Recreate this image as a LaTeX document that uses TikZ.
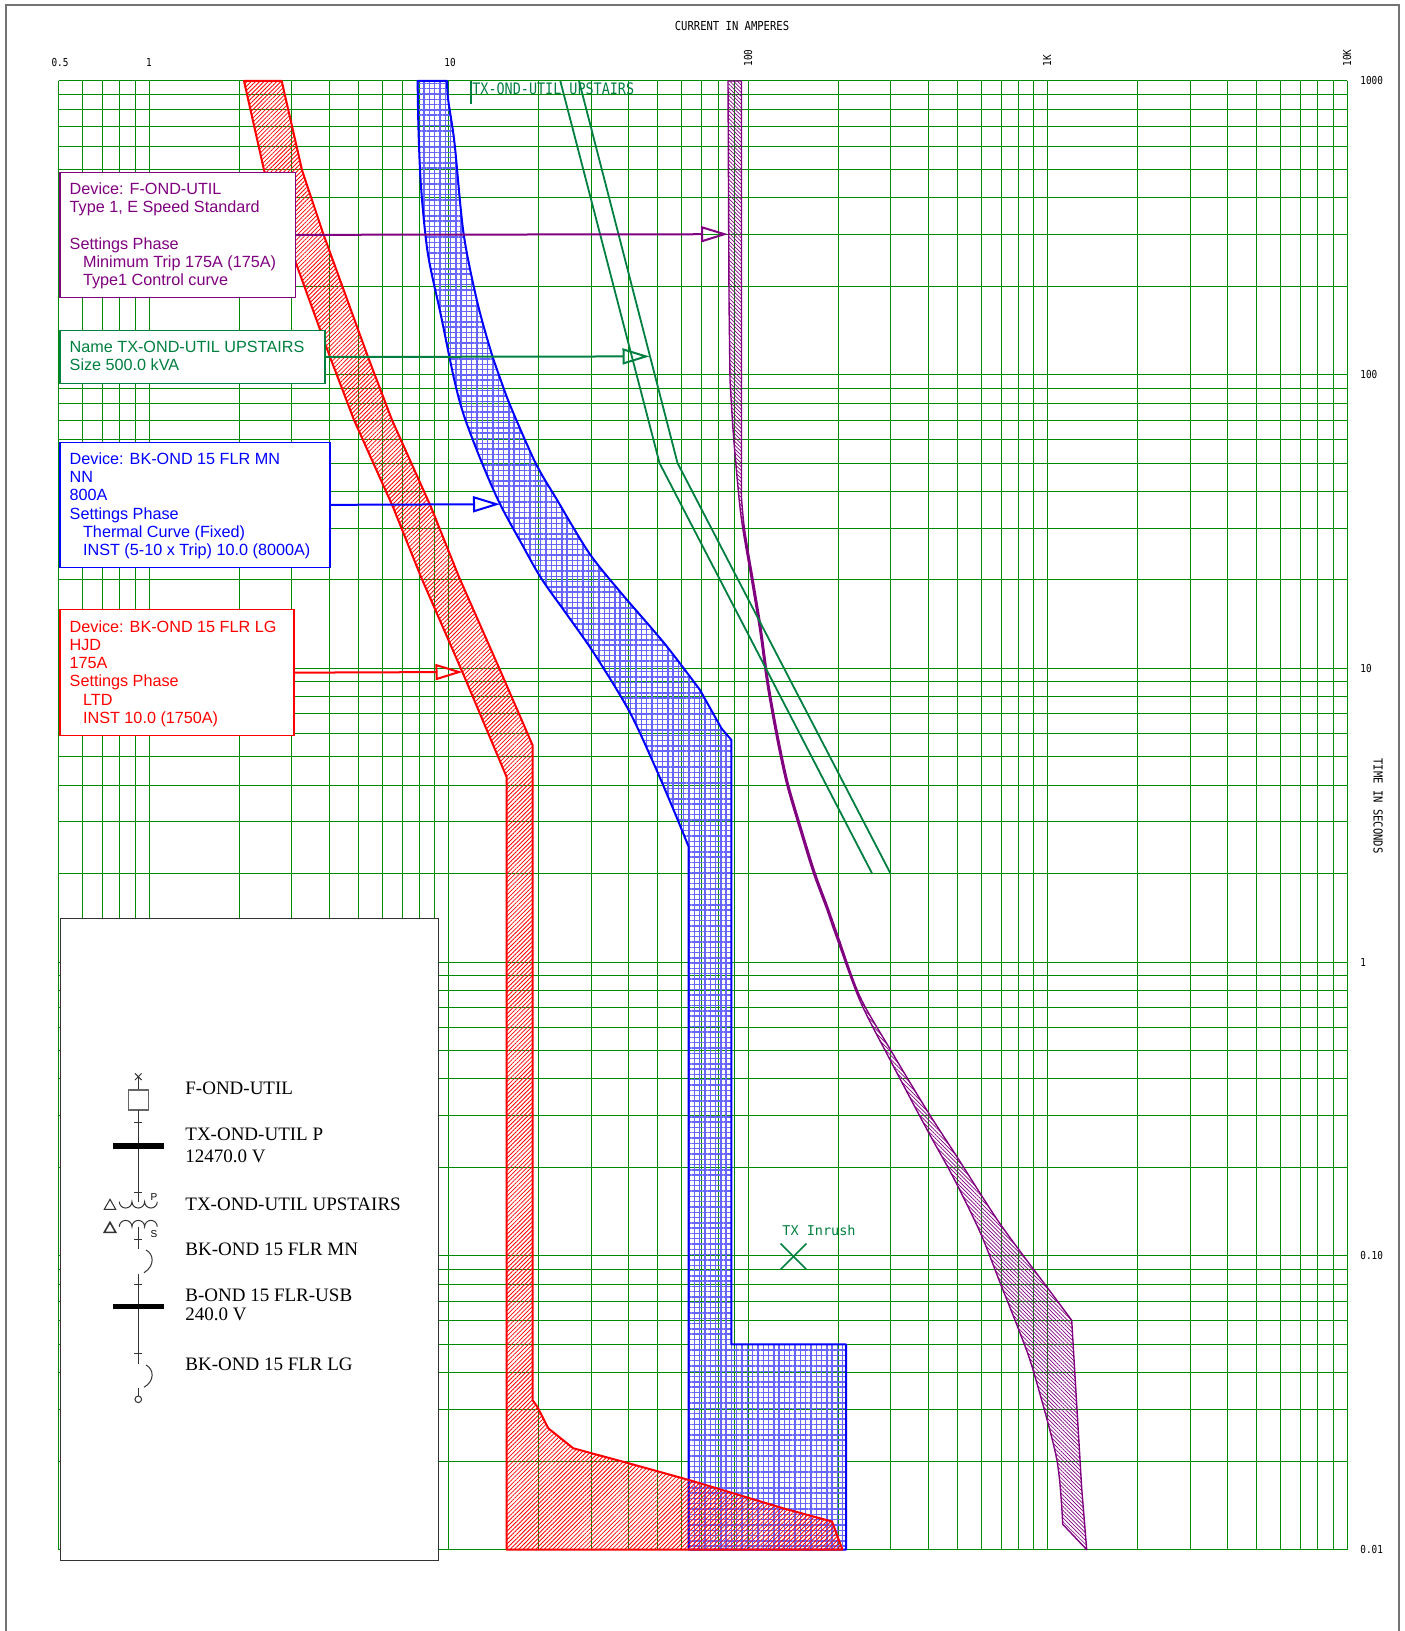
\documentclass[tikz,border=0pt]{standalone}
\usepackage{fontspec}
\setmainfont{Liberation Sans}
\newfontfamily\legendfont{Liberation Serif}
\newfontfamily\plotfont[FakeStretch=0.85]{DejaVu Sans Mono}
\newfontfamily\inrushfont{DejaVu Sans Mono}
\usepackage{xcolor}
\usepackage{tikz}
\usetikzlibrary{arrows.meta, patterns.meta}
\definecolor{GridGreen}{RGB}{0,140,0}
\definecolor{TxGreen}{RGB}{0,128,64}
\definecolor{FusePurple}{RGB}{128,0,128}

\begin{document}
\begin{tikzpicture}[x=0.5pt, y=-0.5pt,
		gridline/.style={GridGreen, line width=0.5pt},
		band/.style={line width=1pt, line join=round},
		lblbox/.style={draw=#1, fill=white, line width=0.65pt, inner sep=0pt, anchor=north west},
		lbltext/.style={text=#1, anchor=base west, inner sep=0pt, font=\fontsize{8.1}{9}\selectfont},
		callout/.style={line width=1pt, -{Triangle[open, length=13.5pt, width=8pt]}},
		axislbl/.style={inner sep=0pt, font=\plotfont\fontsize{5.5}{6}\selectfont},
		axistitle/.style={inner sep=0pt, font=\plotfont\fontsize{6.2}{7}\selectfont},
		legtext/.style={anchor=base west, inner sep=0pt, font=\legendfont\fontsize{9.5}{11}\selectfont},
		oneline/.style={black!80, line width=0.5pt}]
		
		\useasboundingbox (0,0) rectangle (1404,1631);
		
		% frame
		\draw[black!55, line width=1pt] (5.5,1631) -- (5.5,5.5) -- (1398.5,5.5) -- (1398.5,1631);
		
		% log grid
		\foreach \e in {0,...,3}
			\foreach \m in {1,...,9}
				\draw[gridline] ({149+299.5*(\e+log10(\m))},81) -- ++(0,1468.6);
		\foreach \m in {5,...,9}
			\draw[gridline] ({149+299.5*(log10(\m)-1)},81) -- ++(0,1468.6);
		\draw[gridline] (1347,81) -- ++(0,1468.6);
		\foreach \e in {-2,...,2}
			\foreach \m in {1,...,9}
				\draw[gridline] (58.8,{962-293.7*(\e+log10(\m))}) -- ++(1288.2,0);
		\draw[gridline] (58.8,81) -- ++(1288.2,0);
		
		% BK-OND 15 FLR MN band
		\draw[blue, band, pattern={Hatch[distance=2.65pt, line width=0.7pt]}, pattern color=blue!60]
			plot[smooth, tension=0.5] coordinates {(417.6,81) (418.5,130) (421,186.7) (427.8,253.3) (441.2,316.7) (454.3,380)
			(464.3,416.7) (482.1,463.3) (500,504) (521.4,543.3) (541,578) (566,613.3)
			(594,653.3) (628.6,710) (653.6,763.3) (675,813.3) (688.6,846.7)} -- (688.6,1549.6)
			-- (846,1549.6) -- (846,1344.3) -- (731.4,1344.3) -- (731.4,740) -- (721.4,728.3)
			-- plot[smooth, tension=0.5] coordinates {(700,690) (664.3,643.3) (621.4,593.3) (589.3,553.3) (557.1,500) (535.7,463.3) (510.7,406.7)
			(500,378) (490.5,350) (476.8,300) (463.5,233) (454.5,143) (448.2,100) (447,81)} -- cycle;
		
		% BK-OND 15 FLR LG band
		\draw[red, band, pattern={Lines[angle=45, distance=1.5pt, line width=0.4pt]}, pattern color=red]
			(244,81) -- (264,170) -- (285,233) -- (330,357) -- (354,420)
			-- (393,507) -- (421,577) -- (462.5,672.3) -- (506.5,776.7) -- (506.5,1549.6)
			-- (842.4,1549.6) -- (832,1521.5) -- (783.3,1508.3) -- (689,1480) -- (626.7,1462.7) -- (573.3,1448.3)
			-- (548.3,1428.3) -- (537.3,1406.7) -- (532.5,1400) -- (532.5,745) -- (501,672.3) -- (459,577)
			-- (431,507) -- (392,420) -- (368,357) -- (323,233) -- (302,170) -- (281.7,81) -- cycle;
		
		% F-OND-UTIL band
		\draw[FusePurple, line width=0.7pt, line join=round, pattern={Lines[angle=-45, distance=1.35pt, line width=0.35pt]}, pattern color=FusePurple]
			(728,81) -- (729,300) -- plot[smooth, tension=0.5] coordinates {(730,380) (733.3,433.6) (739,498) (743,530) (751.5,580)
			(759.7,630) (767,683.6) (776.5,737) (786.5,783.6) (800,830) (813.3,872.9)
			(826.5,908.6) (836.7,937.8) (860,1000.9) (890,1059.7) (926.7,1129) (953.3,1177.4)
			(980,1232) (1000,1282.5) (1020,1333) (1033.3,1370.8) (1056.7,1459) (1062.7,1524.2)}
			-- (1086.7,1549.6) -- (1081.7,1488.5) -- (1076.7,1404.4) -- (1071.7,1320.3)
			-- plot[smooth, tension=0.5] coordinates {(1046.7,1286.7) (1000,1223.7) (956.7,1156.4) (926.7,1110) (890,1049) (860,996.7) (838.2,936.8)
			(828,907.8) (814.8,872) (801.5,829) (788,782.8) (778,736) (768.5,682.8)
			(761.2,629) (753,579) (744.5,529) (741.5,498)} -- (741.5,81) -- cycle;
		
		% TX-OND-UTIL UPSTAIRS damage curve
		\draw[TxGreen, line width=0.9pt, line join=round] (560.3,81) -- (659.5,463) -- (872.3,873.9);
		\draw[TxGreen, line width=0.9pt, line join=round] (579,81) -- (677.5,463) -- (890.7,873.9);
		\node[TxGreen, anchor=base west, inner sep=0pt, font=\plotfont\fontsize{7.9}{9}\selectfont] (txTag) at (472,94.3) {TX-OND-UTIL UPSTAIRS};
		\draw[TxGreen, line width=0.7pt] (471,81) -- (471,104);
		
		% inrush point
		\coordinate (inrush) at (793.5,1256.5);
		\draw[TxGreen, line width=0.8pt] (780.5,1243.5) -- (806.5,1269.5) (780.5,1269.5) -- (806.5,1243.5);
		\node[TxGreen, anchor=base west, inner sep=0pt, font=\inrushfont\fontsize{6.75}{8}\selectfont] (inrushLbl) at (782,1235.5) {TX Inrush};
		
		% device labels
		\node[lblbox=FusePurple, minimum width=117.85pt, minimum height=62.5pt] (fuseBox) at (59.3,171.7) {};
		\foreach \xx/\yy/\txt in {69.3/194.3/{Device: F-OND-UTIL}, 69.3/212.6/{Type 1, E Speed Standard},
				69.3/249.2/{Settings Phase}, 82.7/267.5/{Minimum Trip 175A (175A)}, 82.7/285.8/{Type1 Control curve}}
			\node[lbltext=FusePurple] at (\xx,\yy) {\txt};
		\coordinate (fuseTip) at (728,234.2);
		\draw[callout, FusePurple] (fuseBox.east) -- (fuseTip);
		
		\node[lblbox=TxGreen, minimum width=132.5pt, minimum height=26.35pt] (txBox) at (59.3,330) {};
		\foreach \xx/\yy/\txt in {69.3/352.7/{Name TX-OND-UTIL UPSTAIRS}, 69.3/370.9/{Size 500.0 kVA}}
			\node[lbltext=TxGreen] at (\xx,\yy) {\txt};
		\coordinate (txTip) at (649.5,356.4);
		\draw[callout, TxGreen] (txBox.east) -- (txTip);
		
		\node[lblbox=blue, minimum width=135pt, minimum height=62.5pt] (mnBox) at (59.3,441.7) {};
		\foreach \xx/\yy/\txt in {69.3/464.3/{Device: BK-OND 15 FLR MN}, 69.3/482.6/{NN}, 69.3/500.9/{800A},
				69.3/519.2/{Settings Phase}, 82.7/537.5/{Thermal Curve (Fixed)}, 82.7/555.8/{INST (5-10 x Trip) 10.0 (8000A)}}
			\node[lbltext=blue] at (\xx,\yy) {\txt};
		\coordinate (mnTip) at (500,504.2);
		\draw[callout, blue] (mnBox.east) -- (mnTip);
		
		\node[lblbox=red, minimum width=117pt, minimum height=63pt] (lgBox) at (59.3,609) {};
		\foreach \xx/\yy/\txt in {69.3/632/{Device: BK-OND 15 FLR LG}, 69.3/650.3/{HJD}, 69.3/668.6/{175A},
				69.3/686.9/{Settings Phase}, 82.7/705.2/{LTD}, 82.7/723.5/{INST 10.0 (1750A)}}
			\node[lbltext=red] at (\xx,\yy) {\txt};
		\coordinate (lgTip) at (462.5,672);
		\draw[callout, red] (lgBox.east) -- (lgTip);
		
		% legend with one-line diagram
		\node[draw=black!80, fill=white, line width=0.5pt, minimum width=188.75pt, minimum height=320.85pt, anchor=north west, inner sep=0pt] (legendBox) at (60.3,918.3) {};
		\draw[oneline] (135,1073.4) -- (141.6,1080) (135,1080) -- (141.6,1073.4);
		\draw[oneline] (138.3,1076.7) -- (138.3,1090);
		\draw[black!60, line width=0.6pt] (128.3,1090) rectangle (148.3,1110);
		\draw[oneline] (138.3,1110) -- (138.3,1201.7);
		\fill[black] (113.3,1142.7) rectangle (164,1148.7);
		\foreach \ty in {1122.7,1192.7,1239.3,1284.3,1353.3}
			\draw[oneline] (134.3,\ty) -- (142.3,\ty);
		\draw[oneline] (119.3,1201.7) arc (180:0:6.33) arc (180:0:6.33) arc (180:0:6.33);
		\draw[oneline] (119.3,1226.7) arc (180:360:6.33) arc (180:360:6.33) arc (180:360:6.33);
		\draw[black!80, line width=0.5pt] (104.3,1209.3) -- (110,1199.3) -- (115.7,1209.3) -- cycle;
		\draw[black!80, line width=0.8pt] (104.3,1232.3) -- (110,1222.3) -- (115.7,1232.3) -- cycle;
		\node[inner sep=0pt, font=\fontsize{5}{5}\selectfont] (priLbl) at (154,1196.7) {P};
		\node[inner sep=0pt, font=\fontsize{5}{5}\selectfont] (secLbl) at (154,1234) {S};
		\draw[oneline] (138.3,1226.7) -- (138.3,1249.3);
		\draw[oneline] (146,1250) .. controls (154,1254) and (155,1266) .. (144,1272.7);
		\draw[oneline] (138.3,1274) -- (138.3,1364);
		\fill[black] (113.3,1304) rectangle (164,1309.3);
		\draw[oneline] (146,1365) .. controls (154,1369) and (155,1381) .. (144,1387.3);
		\draw[oneline] (138.3,1388.3) -- (138.3,1396);
		\draw[oneline] (138.3,1399.3) circle (3.3);
		
		\node[legtext] (l1) at (185,1094.3) {F-OND-UTIL};
		\node[legtext] (l2) at (185,1140.7) {TX-OND-UTIL P};
		\node[legtext] (l3) at (185,1162.7) {12470.0 V};
		\node[legtext] (l4) at (185,1210) {TX-OND-UTIL UPSTAIRS};
		\node[legtext] (l5) at (185,1255) {BK-OND 15 FLR MN};
		\node[legtext] (l6) at (185,1301.7) {B-OND 15 FLR-USB};
		\node[legtext] (l7) at (185,1320) {240.0 V};
		\node[legtext] (l8) at (185,1370.7) {BK-OND 15 FLR LG};
		
		% axis labels
		\node[axistitle] (curTitle) at (732,26) {CURRENT IN AMPERES};
		\node[axistitle, rotate=-90] (timeTitle) at (1378,806) {TIME IN SECONDS};
		\node[axislbl, anchor=base] (a05) at (60,66.5) {0.5};
		\node[axislbl, anchor=base] (a1) at (149,66.5) {1};
		\node[axislbl, anchor=base] (a10) at (450,66.5) {10};
		\node[axislbl, anchor=west, rotate=90] (a100) at (748,67) {100};
		\node[axislbl, anchor=west, rotate=90] (a1k) at (1047,67) {1K};
		\node[axislbl, anchor=west, rotate=90] (a10k) at (1347,67) {10K};
		\foreach \tv/\tl in {3/1000, 2/100, 1/10, 0/1, -1/0.10, -2/0.01}
			\node[axislbl, anchor=west] at (1360,{962-293.7*\tv}) {\tl};
		
\end{tikzpicture}
\end{document}
